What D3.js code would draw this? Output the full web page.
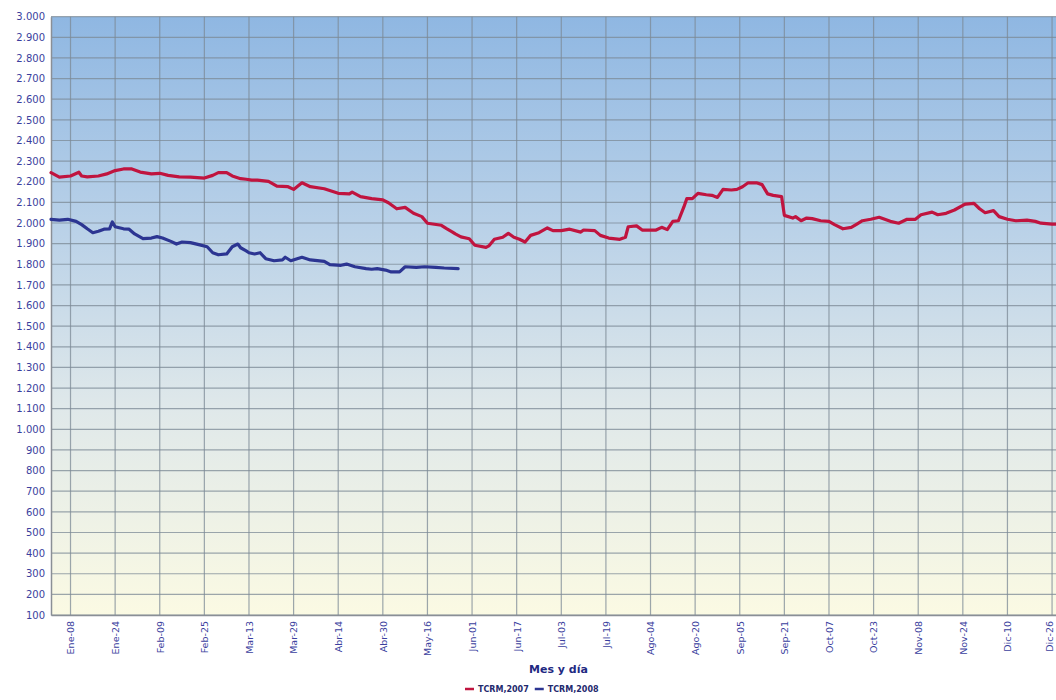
<!DOCTYPE html>
<html>
<head>
<meta charset="utf-8">
<script src="https://cdn.jsdelivr.net/npm/d3@7"></script>
<style>
  html, body { margin: 0; padding: 0; background: #ffffff; }
  svg { display: block; }
</style>
</head>
<body>
<svg id="chart" width="1056" height="700"></svg>
<script>
// Tasa de cambio representativa del mercado (TCRM), pesos por dólar.
// Día del año (1 = 1 de enero) y valor de cada punto.
const dias2007 = [1, 4, 8, 11, 12, 14, 18, 21, 24, 27, 30, 33, 37, 40, 43, 47, 51, 56, 59, 61,
  64, 66, 69, 71, 73, 75, 79, 82, 86, 88, 91, 94, 99, 104, 108, 109, 112, 116, 120, 122,
  125, 128, 131, 134, 136, 141, 143, 145, 146, 148, 151, 153, 157, 158, 160, 163, 165, 167, 169, 171,
  173, 176, 179, 181, 184, 187, 191, 192, 196, 198, 201, 205, 207, 208, 211, 213, 218, 220, 222, 224,
  226, 228, 229, 231, 233, 236, 238, 240, 242, 245, 247, 249, 251, 254, 256, 258, 260, 263, 264, 267,
  268, 270, 272, 274, 277, 280, 282, 285, 288, 290, 292, 295, 298, 302, 305, 308, 311, 313, 317, 319,
  322, 325, 328, 329, 332, 334, 336, 339, 341, 344, 347, 351, 354, 356, 360, 362];
const tcrm2007 = [2244, 2222, 2228, 2246, 2228, 2224, 2228, 2238, 2254, 2262, 2262, 2247, 2238, 2241, 2231, 2224, 2222, 2218, 2231, 2244,
  2244, 2228, 2215, 2212, 2208, 2208, 2202, 2179, 2176, 2163, 2195, 2176, 2166, 2144, 2141, 2150, 2128, 2118, 2112, 2098,
  2069, 2076, 2047, 2031, 1999, 1989, 1972, 1956, 1947, 1933, 1924, 1892, 1882, 1889, 1921, 1931, 1950, 1931, 1921, 1908,
  1940, 1953, 1976, 1963, 1963, 1970, 1956, 1966, 1963, 1940, 1927, 1921, 1931, 1982, 1986, 1966, 1966, 1979, 1968, 2008,
  2011, 2079, 2118, 2118, 2144, 2137, 2134, 2124, 2163, 2160, 2163, 2176, 2195, 2195, 2186, 2141, 2134, 2128, 2037, 2024,
  2031, 2011, 2024, 2021, 2011, 2008, 1992, 1972, 1979, 1995, 2011, 2018, 2028, 2008, 1999, 2018, 2018, 2040, 2053, 2040,
  2047, 2063, 2086, 2092, 2095, 2069, 2050, 2060, 2031, 2018, 2011, 2014, 2008, 1999, 1995, 1995];

const dias2008 = [1, 4, 7, 10, 12, 14, 16, 18, 20, 22, 23, 24, 27, 29, 31, 34, 37, 39, 41, 44,
  46, 48, 51, 54, 57, 59, 61, 64, 66, 68, 69, 71, 72, 74, 76, 78, 81, 84, 85, 87,
  91, 94, 99, 101, 105, 107, 110, 114, 116, 118, 121, 123, 126, 128, 132, 135, 139, 142, 147];
const tcrm2008 = [2018, 2014, 2018, 2008, 1992, 1972, 1953, 1960, 1970, 1972, 2005, 1982, 1972, 1970, 1947, 1924, 1927, 1934, 1927, 1911,
  1898, 1908, 1905, 1895, 1885, 1856, 1846, 1850, 1885, 1898, 1880, 1865, 1856, 1850, 1856, 1827, 1817, 1821, 1834, 1817,
  1834, 1821, 1814, 1798, 1795, 1801, 1788, 1779, 1776, 1779, 1772, 1763, 1763, 1788, 1785, 1788, 1785, 1782, 1779];

// Marcas del eje de fechas (cada 16 días desde el 8 de enero).
const tickDias = [8, 24, 40, 56, 72, 88, 104, 120, 136, 152, 168, 184, 200, 216, 232, 248, 264, 280, 296, 312, 328, 344, 360];
const tickEtiquetas = ["Ene-08", "Ene-24", "Feb-09", "Feb-25", "Mar-13", "Mar-29", "Abr-14", "Abr-30", "May-16",
  "Jun-01", "Jun-17", "Jul-03", "Jul-19", "Ago-04", "Ago-20", "Sep-05", "Sep-21", "Oct-07", "Oct-23",
  "Nov-08", "Nov-24", "Dic-10", "Dic-26"];
const yTicks = d3.range(100, 3001, 100);

const series = [
  { nombre: "TCRM,2007", dias: dias2007, valores: tcrm2007, color: "#c0143f" },
  { nombre: "TCRM,2008", dias: dias2008, valores: tcrm2008, color: "#2c3592" }
];

const svg = d3.select("#chart");
const W = 1056;
const plot = { left: 51, top: 16.7, bottom: 615, right: 1066 };

const x = d3.scaleLinear().domain([1, 365]).range([plot.left, plot.right]);
const y = d3.scaleLinear().domain([100, 3000]).range([plot.bottom, plot.top]);

const es = d3.formatLocale({ decimal: ",", thousands: ".", grouping: [3], currency: ["$", ""] });
const fmt = es.format(",d");

// Fondo degradado del área de trazado
const defs = svg.append("defs");
const grad = defs.append("linearGradient").attr("id", "fondo")
  .attr("x1", 0).attr("y1", 0).attr("x2", 0).attr("y2", 1);
grad.append("stop").attr("offset", "0%").attr("stop-color", "#8fb7e2");
grad.append("stop").attr("offset", "35%").attr("stop-color", "#b9d1e8");
grad.append("stop").attr("offset", "65%").attr("stop-color", "#dfe8ea");
grad.append("stop").attr("offset", "100%").attr("stop-color", "#fbfae3");

svg.append("rect")
  .attr("x", plot.left).attr("y", plot.top)
  .attr("width", plot.right - plot.left).attr("height", plot.bottom - plot.top)
  .attr("fill", "url(#fondo)");

// Rejilla
const grid = svg.append("g").attr("stroke", "#7c8a96").attr("stroke-opacity", 0.75).attr("stroke-width", 1.2);
grid.selectAll("line.h").data(yTicks).join("line").attr("class", "h")
  .attr("x1", plot.left).attr("x2", plot.right)
  .attr("y1", d => y(d)).attr("y2", d => y(d));
grid.selectAll("line.v").data(tickDias).join("line").attr("class", "v")
  .attr("x1", d => x(d)).attr("x2", d => x(d))
  .attr("y1", plot.top).attr("y2", plot.bottom);

// Eje Y
const yAxis = svg.append("g")
  .attr("transform", `translate(${plot.left},0)`)
  .call(d3.axisLeft(y).tickValues(yTicks).tickFormat(fmt).tickSize(0).tickPadding(6));
yAxis.select(".domain").attr("stroke", "#8a8f96").attr("stroke-width", 1.5);
yAxis.selectAll("text")
  .attr("fill", "#3b3f9e")
  .style("font-family", "'DejaVu Sans', Verdana, sans-serif")
  .style("font-size", "10px");

// Eje X (la última etiqueta se acerca un poco para que quepa en el borde)
const xAxis = svg.append("g")
  .attr("transform", `translate(0,${plot.bottom})`)
  .call(d3.axisBottom(x).tickValues(tickDias).tickFormat((d, i) => tickEtiquetas[i]).tickSize(0).tickPadding(0));
xAxis.select(".domain").attr("stroke", "#8a8f96").attr("stroke-width", 1.5);
xAxis.selectAll("text")
  .attr("fill", "#3b3f9e")
  .style("font-family", "'DejaVu Sans', Verdana, sans-serif")
  .style("font-size", "9.5px")
  .attr("text-anchor", "end")
  .attr("dy", "0.35em")
  .attr("transform", d => `translate(${x(d) > W - 8 ? -3 : 0},6) rotate(-90)`)
  .attr("x", 0).attr("y", 0);

// Líneas de las series
const linea = d3.line()
  .x(d => x(d[0]))
  .y(d => y(d[1]));

svg.append("g").selectAll("path").data(series).join("path")
  .attr("d", s => linea(s.dias.map((d, i) => [d, s.valores[i]])))
  .attr("fill", "none")
  .attr("stroke", s => s.color)
  .attr("stroke-width", 3.2)
  .attr("stroke-linejoin", "round")
  .attr("stroke-linecap", "round");

// Título del eje X
svg.append("text")
  .attr("x", (plot.left + plot.right) / 2).attr("y", 673)
  .attr("text-anchor", "middle")
  .attr("fill", "#1f2a82")
  .style("font-family", "'DejaVu Sans', Verdana, sans-serif")
  .style("font-size", "11px")
  .style("font-weight", "bold")
  .text("Mes y día");

// Leyenda
const leyenda = svg.append("g").attr("transform", "translate(465,689)");
let lx = 0;
series.forEach(s => {
  leyenda.append("line")
    .attr("x1", lx).attr("x2", lx + 9).attr("y1", 0).attr("y2", 0)
    .attr("stroke", s.color).attr("stroke-width", 2.5);
  const t = leyenda.append("text")
    .attr("x", lx + 13).attr("y", 0).attr("dy", "0.35em")
    .attr("fill", "#1f2a6e")
    .style("font-family", "'DejaVu Sans', Verdana, sans-serif")
    .style("font-size", "8px")
    .style("font-weight", "bold")
    .text(s.nombre);
  lx += 13 + t.node().getComputedTextLength() + 6;
});
</script>
</body>
</html>
